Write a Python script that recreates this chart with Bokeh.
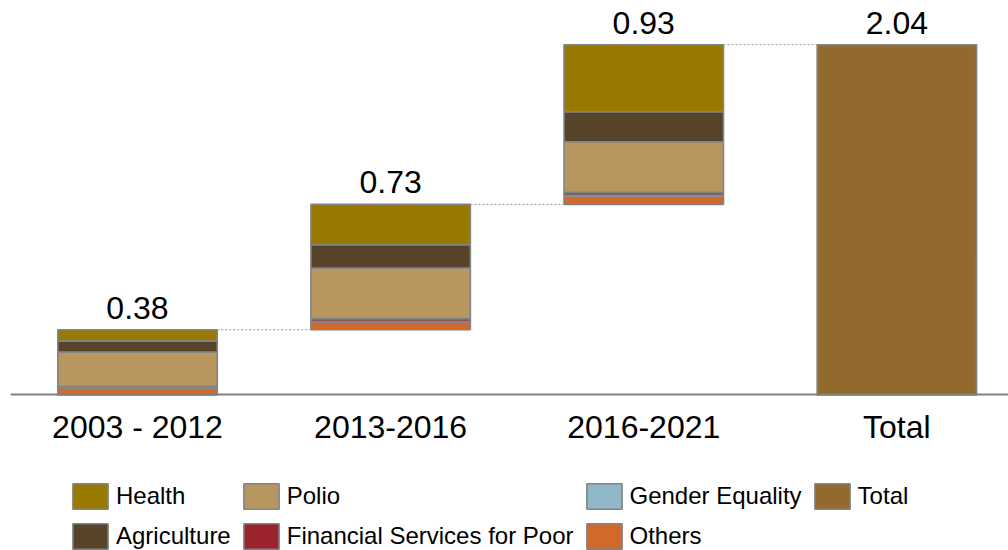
from bokeh.plotting import figure
from bokeh.models import Range1d, FixedTicker, Legend, LegendItem, ColumnDataSource
from bokeh.core.properties import value
from bokeh.embed import file_html
from bokeh.resources import INLINE
import numpy as np

# ---- data ----
categories = ["2003 - 2012", "2013-2016", "2016-2021", "Total"]
others = [0.040, 0.045, 0.043]
gender_equality = [0.004, 0.004, 0.012]
financial_services = [0.006, 0.016, 0.015]
polio = [0.200, 0.295, 0.295]
agriculture = [0.065, 0.135, 0.175]
health = [0.065, 0.235, 0.390]
period_totals = [0.38, 0.73, 0.93]
grand_total = 2.04

# stacking order bottom-up
series = [
    ("Others", others, "#D1692A"),
    ("Gender Equality", gender_equality, "#8FB9C9"),
    ("Financial Services for Poor", financial_services, "#9B232D"),
    ("Polio", polio, "#B7965F"),
    ("Agriculture", agriculture, "#57432A"),
    ("Health", health, "#997A00"),
]
total_color = "#936A2E"
legend_order = ["Health", "Agriculture", "Polio", "Financial Services for Poor",
                "Gender Equality", "Others", "Total"]

FONT = "Liberation Sans"
BAR_W = 0.63
EDGE = "#848484"

x_idx = np.arange(len(categories))
x_periods = x_idx[:3]
bases = np.concatenate([[0.0], np.cumsum(period_totals)[:-1]])

p = figure(width=1008, height=550, output_backend="svg", toolbar_location=None,
           x_range=Range1d(-0.5018, 3.441), y_range=Range1d(-0.9057, 2.2977),
           min_border_left=10, min_border_right=0, min_border_top=0,
           min_border_bottom=0)
p.outline_line_color = None
p.xgrid.visible = False
p.ygrid.visible = False
p.yaxis.visible = False

renderers = {}
running = bases.copy()
for name, vals, col in series:
    vals = np.array(vals)
    src = ColumnDataSource(dict(x=x_periods, bottom=running, top=running + vals))
    r = p.vbar(x="x", bottom="bottom", top="top", width=BAR_W, source=src,
               fill_color=col, line_color=EDGE, line_width=1.6)
    renderers[name] = r
    running = running + vals

tsrc = ColumnDataSource(dict(x=[x_idx[3]], bottom=[0.0], top=[grand_total]))
renderers["Total"] = p.vbar(x="x", bottom="bottom", top="top", width=BAR_W, source=tsrc,
                            fill_color=total_color, line_color=EDGE, line_width=1.6)

# connectors
tops = bases + np.array(period_totals)
csrc = ColumnDataSource(dict(x0=x_idx[:3] + BAR_W / 2, x1=x_idx[1:] - BAR_W / 2, y=tops))
p.segment(x0="x0", y0="y", x1="x1", y1="y", source=csrc, line_color="#999999",
          line_width=1, line_dash="2 2")

# value labels
lsrc = ColumnDataSource(dict(x=x_idx, y=list(tops) + [grand_total],
                             t=["%.2f" % v for v in period_totals + [grand_total]]))
p.text(x="x", y="y", text="t", source=lsrc, text_align="center",
       text_baseline="bottom", y_offset=-11, text_font=value(FONT),
       text_font_size="32px", text_color="#000000")

# x axis drawn at y = 0 inside the frame
ax = p.xaxis[0]
ax.fixed_location = 0
ax.ticker = FixedTicker(ticks=list(x_idx))
ax.major_label_overrides = {int(i): c for i, c in zip(x_idx, categories)}
ax.axis_line_color = "#808080"
ax.axis_line_width = 2
ax.major_tick_line_color = None
ax.minor_tick_line_color = None
ax.major_label_standoff = 8
ax.major_label_text_font = FONT
ax.major_label_text_font_size = "32px"
ax.major_label_text_color = "#000000"

legend = Legend(items=[LegendItem(label=n, renderers=[renderers[n]]) for n in legend_order],
                orientation="vertical", nrows=2, location=(58, -2),
                glyph_width=44, glyph_height=32, label_standoff=4, spacing=8,
                padding=0, margin=0, border_line_color=None, background_fill_alpha=0,
                label_text_font=FONT, label_text_font_size="24px",
                label_text_color="#000000")
p.add_layout(legend, "center")

open("out.html", "w").write(file_html(p, INLINE))
